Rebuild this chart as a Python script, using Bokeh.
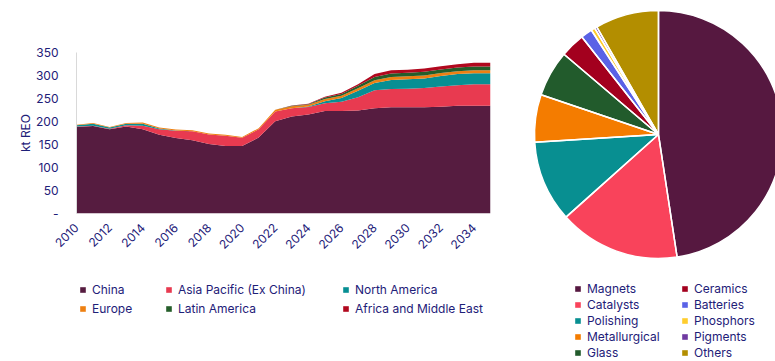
import math
from bokeh.plotting import figure
from bokeh.models import (ColumnDataSource, Range1d, FixedTicker, Legend, LegendItem)
from bokeh.layouts import row, column
from bokeh.embed import file_html
from bokeh.resources import INLINE

# ---------------- data ----------------
years = list(range(2010, 2036))
regions = ["China", "Asia Pacific (Ex China)", "North America", "Europe",
           "Latin America", "Africa and Middle East"]
china = [188, 190, 183, 189, 183, 171, 164, 159, 151, 147, 146.5,
         165, 200.6, 210.7, 215, 223, 223, 223.7, 228.7, 231, 231, 231, 232, 234, 234.5, 234.5]
asia_pacific = [1, 1, 1, 3, 8, 12, 16, 20, 21, 22, 18,
                18, 21.4, 18.3, 16.6, 16.5, 20, 28.8, 39.3, 39.6, 40, 41.7, 44, 45, 46.5, 46.5]
north_america = [3, 4, 3, 3, 4, 2, 0.5, 0, 0, 0, 0,
                 0, 0, 0, 1, 4.5, 8, 14.5, 15.5, 19.4, 21, 21, 23, 24, 24, 24]
europe = [1, 2, 1, 2, 3, 2, 2, 2, 2, 2, 2,
          2.5, 3.5, 4, 4, 5, 5, 5.5, 6, 6.5, 6.5, 6.5, 6.5, 6.5, 6.5, 6.5]
latin_america = [0, 0, 0, 0, 0, 0, 0, 0, 0, 0, 0,
                 0, 0.3, 1, 1, 3, 4, 5, 7, 8, 7.5, 8, 7.5, 8, 8, 8]
africa_me = [0, 0, 0, 0, 0, 0, 0, 0, 0, 0, 0,
             0, 0, 1, 1, 2, 2.6, 3.5, 6.5, 7, 6.5, 7, 7, 7, 8, 8]
region_colors = ["#561C40", "#E83A50", "#078F93", "#EE8012", "#255E2A", "#B1081E"]

x_ticks = list(range(2010, 2035, 2))
y_ticks = [0, 50, 100, 150, 200, 250, 300, 350]

uses = ["Magnets", "Catalysts", "Polishing", "Metallurgical", "Glass",
        "Ceramics", "Batteries", "Phosphors", "Pigments", "Others"]
use_share = [47.6, 15.8, 10.6, 6.2, 6.0, 3.2, 1.5, 0.5, 0.3, 8.3]
use_colors = ["#561840", "#F9435B", "#088F91", "#F47C00", "#225B2C",
              "#A3001E", "#5A62E6", "#FFCD2E", "#6F3AA1", "#B38E00"]

FONT = "Inter"
TXT = "#1E2078"


def style_legend(lg, spacing):
    lg.border_line_color = None
    lg.background_fill_alpha = 0
    lg.padding = 0
    lg.margin = 0
    lg.spacing = spacing
    lg.glyph_width = 7
    lg.glyph_height = 7
    lg.label_standoff = 6
    lg.label_height = 14
    lg.label_text_font = FONT
    lg.label_text_font_size = "12px"
    lg.label_text_color = TXT
    return lg


# ---------------- area chart ----------------
keys = ["c%d" % i for i in range(len(regions))]
src = ColumnDataSource(dict(year=years, c0=china, c1=asia_pacific, c2=north_america,
                            c3=europe, c4=latin_america, c5=africa_me))

p1 = figure(width=520, height=270, x_range=Range1d(2010, 2035), y_range=Range1d(0, 350),
            output_backend="svg", toolbar_location=None,
            min_border_left=76, min_border_right=30, min_border_top=52, min_border_bottom=57)
p1.frame_align = False
p1.outline_line_color = None
p1.xgrid.visible = False
p1.ygrid.visible = False

p1.varea_stack(stackers=keys, x="year", color=region_colors, source=src)

p1.xaxis.ticker = FixedTicker(ticks=x_ticks)
p1.yaxis.ticker = FixedTicker(ticks=y_ticks)
p1.yaxis.major_label_overrides = {0: "-"}
for ax in (p1.xaxis[0], p1.yaxis[0]):
    ax.major_tick_line_color = None
    ax.minor_tick_line_color = None
    ax.major_label_text_font = FONT
    ax.major_label_text_color = TXT
    ax.major_label_text_font_size = "12px"
p1.xaxis.axis_line_color = None
p1.yaxis.axis_line_color = "#D9D9D9"
p1.xaxis.major_label_orientation = math.pi / 4
p1.xaxis.major_label_standoff = 6
p1.yaxis.major_label_standoff = 12
p1.yaxis.axis_label = "kt REO"
p1.yaxis.axis_label_text_font = FONT
p1.yaxis.axis_label_text_font_style = "normal"
p1.yaxis.axis_label_text_color = TXT
p1.yaxis.axis_label_text_font_size = "12px"
p1.yaxis.axis_label_standoff = 0

# legend panel for the area chart (same stack, out of view, carries the colours)
p1b = figure(width=520, height=91, x_range=Range1d(0, 1), y_range=Range1d(0, 1),
             output_backend="svg", toolbar_location=None, min_border=0,
             x_axis_type=None, y_axis_type=None)
p1b.frame_align = False
p1b.outline_line_color = None
p1b.xgrid.visible = False
p1b.ygrid.visible = False
proxies = p1b.varea_stack(stackers=keys, x="year", color=region_colors, source=src)
for cidx, xo in zip([[0, 3], [1, 4], [2, 5]], [79, 165, 342]):
    items = [LegendItem(label=regions[i], renderers=[proxies[i]]) for i in cidx]
    lg = Legend(items=items, location=(xo, 45), orientation="vertical")
    style_legend(lg, 4)
    p1b.add_layout(lg, "center")

# ---------------- pie chart ----------------
total = sum(use_share)
starts, ends = [], []
acc = 0.0
for v in use_share:
    starts.append(math.pi / 2 - 2 * math.pi * acc / total)
    acc += v
    ends.append(math.pi / 2 - 2 * math.pi * acc / total)
psrc = ColumnDataSource(dict(use=uses, share=use_share, start=starts, end=ends, color=use_colors))

p2 = figure(width=255, height=361, x_range=Range1d(520, 775), y_range=Range1d(-361, 0),
            output_backend="svg", toolbar_location=None, min_border=0,
            x_axis_type=None, y_axis_type=None)
p2.frame_align = False
p2.outline_line_color = None
p2.xgrid.visible = False
p2.ygrid.visible = False

wr = p2.wedge(x=658, y=-134, radius=124, start_angle="start", end_angle="end",
              direction="clock", fill_color="color", line_color=None, source=psrc)
p2.wedge(x=658, y=-134, radius=124, start_angle="start", end_angle="end",
         direction="clock", fill_alpha=0, line_color="white", line_width=1.5, source=psrc)

for cidx, xo in zip([[0, 1, 2, 3, 4], [5, 6, 7, 8, 9]], [54, 161]):
    items = [LegendItem(label=uses[i], renderers=[wr], index=i) for i in cidx]
    lg = Legend(items=items, location=(xo, 1), orientation="vertical")
    style_legend(lg, 1)
    p2.add_layout(lg, "center")

layout = row(column(p1, p1b), p2)
open("out.html", "w").write(file_html(layout, INLINE))
